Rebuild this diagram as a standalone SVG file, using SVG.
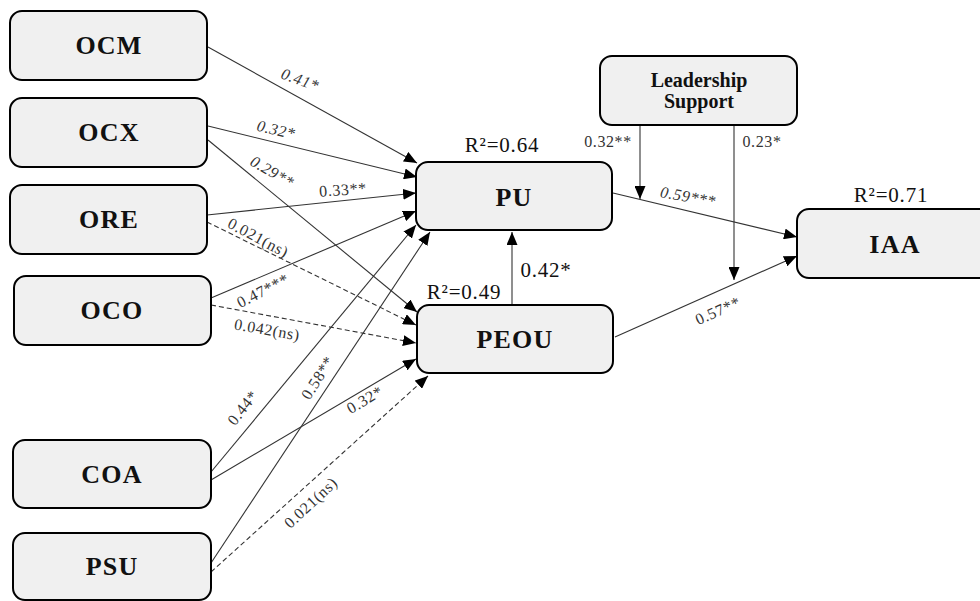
<svg xmlns="http://www.w3.org/2000/svg" width="980" height="601" viewBox="0 0 980 601">
<defs>
<marker id="arr" markerWidth="13" markerHeight="11" refX="13" refY="5.5" orient="auto" markerUnits="userSpaceOnUse">
<path d="M0,0 L13,5.5 L0,11 z" fill="#000"/>
</marker>
<style>
.box{fill:#f0f0f0;stroke:#000;stroke-width:2}
.nl{font-family:"Liberation Serif","Times New Roman",serif;font-weight:bold;font-size:26px;letter-spacing:1.2px;text-anchor:middle;fill:#111}
.ls{font-family:"Liberation Serif","Times New Roman",serif;font-weight:bold;font-size:20px;text-anchor:middle;fill:#111}
.e{stroke:#333;stroke-width:1.1;fill:none;marker-end:url(#arr)}
.d{stroke-dasharray:5,3}
.el{font-family:"Liberation Serif","Times New Roman",serif;font-size:16px;letter-spacing:0.6px;text-anchor:middle;fill:#333}
.it{font-style:italic}
.r2{font-family:"Liberation Serif","Times New Roman",serif;font-size:21px;letter-spacing:0.8px;text-anchor:middle;fill:#111}
</style>
</defs>
<rect width="980" height="601" fill="#fff"/>
<g id="connectors">
<line class="e" x1="208" y1="47" x2="417" y2="163"/>
<line class="e" x1="208" y1="126" x2="417" y2="177"/>
<line class="e" x1="208" y1="140" x2="417" y2="312"/>
<line class="e" x1="207" y1="215" x2="416" y2="193"/>
<line class="e d" x1="207" y1="222" x2="416" y2="325"/>
<line class="e" x1="211" y1="298" x2="416" y2="211"/>
<line class="e d" x1="211" y1="305" x2="416" y2="343"/>
<line class="e" x1="211" y1="472" x2="416" y2="225"/>
<line class="e" x1="211" y1="480" x2="416" y2="359"/>
<line class="e" x1="211" y1="563" x2="430" y2="232"/>
<line class="e d" x1="211" y1="572" x2="428" y2="376"/>
<line class="e" x1="512" y1="305" x2="512" y2="232"/>
<line class="e" x1="613" y1="193" x2="797" y2="237"/>
<line class="e" x1="615" y1="337" x2="797" y2="256"/>
<line class="e" x1="640" y1="125" x2="640" y2="199"/>
<line class="e" x1="734" y1="125" x2="734" y2="280"/>
</g>
<g id="edge-labels">
<text class="el it" x="300" y="85" transform="rotate(20 300 80)">0.41*</text>
<text class="el it" x="276" y="135" transform="rotate(13 276 130)">0.32*</text>
<text class="el it" x="272" y="177" transform="rotate(30 272 172)">0.29**</text>
<text class="el" x="343" y="195" transform="rotate(-4 343 190)">0.33**</text>
<text class="el" x="258" y="243" transform="rotate(28 258 238)">0.021(ns)</text>
<text class="el" x="263" y="296" transform="rotate(-27 263 291)">0.47***</text>
<text class="el" x="267" y="335" transform="rotate(10 267 330)">0.042(ns)</text>
<text class="el" x="243" y="413" transform="rotate(-52 243 408)">0.44*</text>
<text class="el" x="318" y="383" transform="rotate(-58 318 378)">0.58**</text>
<text class="el" x="365" y="405" transform="rotate(-31 365 400)">0.32*</text>
<text class="el" x="311" y="508" transform="rotate(-43 311 503)">0.021(ns)</text>
<text class="el it" x="688" y="202" transform="rotate(10 688 197)">0.59***</text>
<text class="el" x="718" y="316" transform="rotate(-24 718 311)">0.57**</text>
<text class="el" x="608" y="147">0.32**</text>
<text class="el" x="762" y="147">0.23*</text>
<text class="r2" x="546" y="277">0.42*</text>
<text class="r2" x="502" y="152">R²=0.64</text>
<text class="r2" x="464" y="299">R²=0.49</text>
<text class="r2" x="891" y="202">R²=0.71</text>
</g>
<g id="OCM"><rect class="box" x="10" y="11" width="197" height="69" rx="12"/><text class="nl" x="109" y="54">OCM</text></g>
<g id="OCX"><rect class="box" x="10" y="98" width="197" height="69" rx="12"/><text class="nl" x="109" y="141">OCX</text></g>
<g id="ORE"><rect class="box" x="10" y="185" width="197" height="69" rx="12"/><text class="nl" x="109" y="228">ORE</text></g>
<g id="OCO"><rect class="box" x="14" y="276" width="197" height="69" rx="12"/><text class="nl" x="112" y="319">OCO</text></g>
<g id="COA"><rect class="box" x="13" y="440" width="198" height="68" rx="12"/><text class="nl" x="112" y="483">COA</text></g>
<g id="PSU"><rect class="box" x="13" y="533" width="198" height="67" rx="12"/><text class="nl" x="112" y="575">PSU</text></g>
<g id="PU"><rect class="box" x="416" y="162" width="196" height="68" rx="12"/><text class="nl" x="514" y="206">PU</text></g>
<g id="PEOU"><rect class="box" x="417" y="305" width="196" height="68" rx="12"/><text class="nl" x="515" y="348">PEOU</text></g>
<g id="LeadershipSupport"><rect class="box" x="600" y="56" width="197" height="69" rx="12"/><text class="ls" x="699" y="87">Leadership</text><text class="ls" x="699" y="108">Support</text></g>
<g id="IAA"><rect class="box" x="797" y="209" width="196" height="69" rx="12"/><text class="nl" x="895" y="253">IAA</text></g>
</svg>
